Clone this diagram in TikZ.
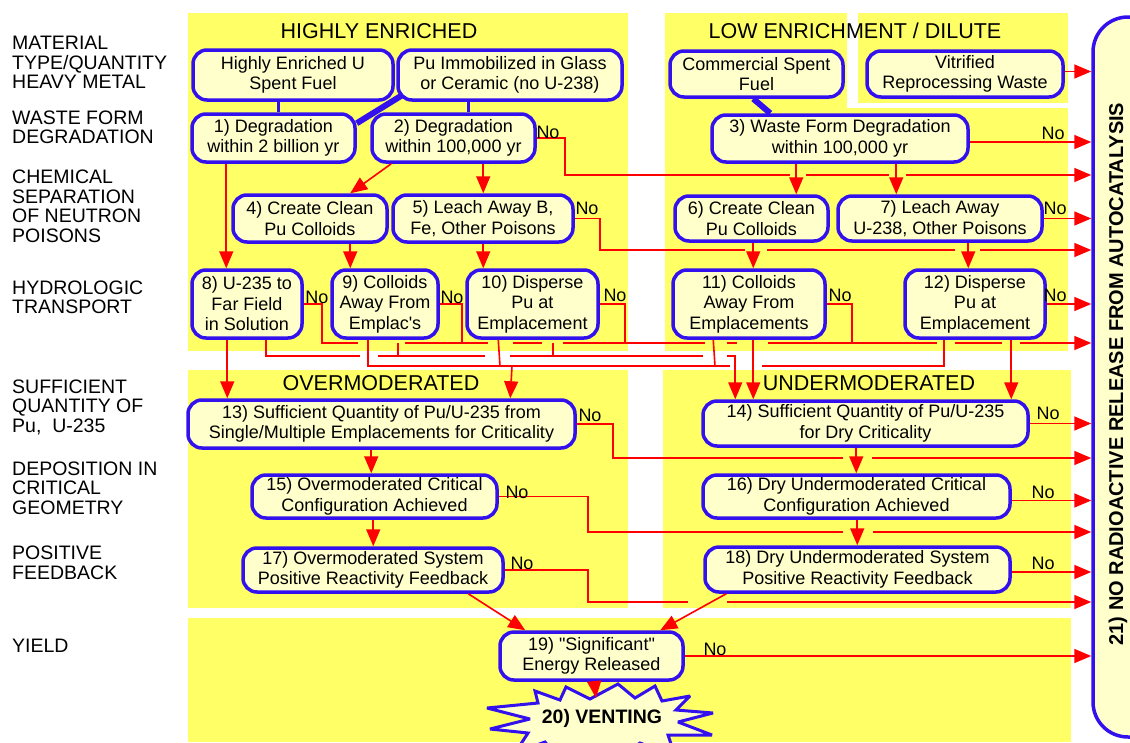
\documentclass[tikz,border=0pt]{standalone}
\usepackage{fontspec}
\setmainfont{Liberation Sans}[Ligatures=TeXOff]
\usetikzlibrary{arrows.meta}
\definecolor{panel}{RGB}{255,255,102}
\definecolor{boxfill}{RGB}{255,255,204}
\definecolor{boxline}{RGB}{51,17,238}
\definecolor{wire}{RGB}{255,0,0}
\tikzset{
  box/.style={draw=boxline, fill=boxfill, line width=3.5pt, rounded corners=14pt, inner sep=0pt, align=center, font=\fontsize{18}{20.5}\selectfont},
  side/.style={anchor=west, align=left, inner sep=0pt, font=\fontsize{19.5}{19.5}\selectfont},
  ttl/.style={inner sep=0pt, font=\fontsize{21.5}{24}\selectfont},
  nolab/.style={inner sep=0pt, font=\fontsize{18}{20}\selectfont},
  wirel/.style={draw=wire, line width=1.6pt},
  arr/.style={wirel, -{Triangle[length=17pt,width=14pt]}},
  link/.style={draw=boxline, line width=3.5pt},
  thicklink/.style={draw=boxline, line width=6pt},
  burst/.style={draw=boxline, fill=boxfill, line width=3pt, line join=miter, miter limit=3},
}
\begin{document}
\begin{tikzpicture}[x=1pt,y=-1pt]
\useasboundingbox (0,0) rectangle (1130,742);
% panels
\fill[panel] (188,13) rectangle (628,351);
\fill[panel] (665,13) rectangle (847,351);
\fill[panel] (858,13) rectangle (1068,103);
\fill[panel] (847,108) rectangle (1068,351);
\fill[panel] (188,370) rectangle (628,608);
\fill[panel] (663,370) rectangle (1071,608);
\fill[panel] (188,618) rectangle (1071,742);
% titles
\node[ttl] (tHE) at (379,31) {HIGHLY ENRICHED};
\node[ttl] (tLE) at (855,31) {LOW ENRICHMENT / DILUTE};
\node[ttl] (tOM) at (381,383) {OVERMODERATED};
\node[ttl] (tUM) at (869,383) {UNDERMODERATED};
% side labels
\node[side] (s1) at (12,62.5) {MATERIAL\\TYPE/QUANTITY\\HEAVY METAL};
\node[side] (s2) at (12,127.5) {WASTE FORM\\DEGRADATION};
\node[side] (s3) at (12,206.5) {CHEMICAL\\SEPARATION\\OF NEUTRON\\POISONS};
\node[side] (s4) at (12,297.5) {HYDROLOGIC\\TRANSPORT};
\node[side] (s5) at (12,407) {SUFFICIENT\\QUANTITY OF\\Pu,\ \ U-235};
\node[side] (s6) at (12,488) {DEPOSITION IN\\CRITICAL\\GEOMETRY};
\node[side] (s7) at (12,563) {POSITIVE\\FEEDBACK};
\node[side] (s8) at (12,646) {YIELD};
% node 21
\node[box, minimum width=80pt, minimum height=720pt, rounded corners=35pt] (n21) at (1133,377) {};
\node[rotate=90, inner sep=0pt, font=\bfseries\fontsize{20}{22}\selectfont] (t21) at (1118,374) {21) NO RADIOACTIVE RELEASE FROM AUTOCATALYSIS};
% boxes
\node[box, minimum width=200pt, minimum height=50pt] (heu) at (293,75) {Highly Enriched U\\Spent Fuel};
\node[box, minimum width=224pt, minimum height=50pt] (pu) at (510,75) {Pu Immobilized in Glass\\or Ceramic (no U-238)};
\node[box, minimum width=173pt, minimum height=46pt] (csf) at (756.5,74) {Commercial Spent\\Fuel};
\node[box, minimum width=196pt, minimum height=46pt] (vit) at (965,74) {Vitrified\\Reprocessing Waste};
\node[box, minimum width=163pt, minimum height=48pt] (n1) at (273.5,138) {1) Degradation\\within 2 billion yr};
\node[box, minimum width=163pt, minimum height=48pt] (n2) at (453.5,138) {2) Degradation\\within 100,000 yr};
\node[box, minimum width=256pt, minimum height=47pt] (n3) at (840,138.5) {3) Waste Form Degradation\\within 100,000 yr};
\node[box, minimum width=154pt, minimum height=47pt] (n4) at (310,218.5) {4) Create Clean\\Pu Colloids};
\node[box, minimum width=180pt, minimum height=47pt] (n5) at (483,218.5) {5) Leach Away B,\\Fe, Other Poisons};
\node[box, minimum width=153pt, minimum height=45pt] (n6) at (751.5,218.5) {6) Create Clean\\Pu Colloids};
\node[box, minimum width=204pt, minimum height=45pt] (n7) at (940,218.5) {7) Leach Away\\U-238, Other Poisons};
\node[box, minimum width=110pt, minimum height=68pt] (n8) at (247,304) {8) U-235 to\\Far Field\\in Solution};
\node[box, minimum width=106pt, minimum height=68pt] (n9) at (385,304) {9) Colloids\\Away From\\Emplac's};
\node[box, minimum width=131pt, minimum height=68pt] (n10) at (532.5,304) {10) Disperse\\Pu at\\Emplacement};
\node[box, minimum width=152pt, minimum height=68pt] (n11) at (749,304) {11) Colloids\\Away From\\Emplacements};
\node[box, minimum width=140pt, minimum height=68pt] (n12) at (975,304) {12) Disperse\\Pu at\\Emplacement};
\node[box, minimum width=387pt, minimum height=48pt] (n13) at (381.5,424) {13) Sufficient Quantity of Pu/U-235 from\\Single/Multiple Emplacements for Criticality};
\node[box, minimum width=325pt, minimum height=45pt] (n14) at (865.5,423.5) {14) Sufficient Quantity of Pu/U-235\\for Dry Criticality};
\node[box, minimum width=245pt, minimum height=43pt] (n15) at (374.5,496.5) {15) Overmoderated Critical\\Configuration Achieved};
\node[box, minimum width=307pt, minimum height=43pt] (n16) at (856.5,496.5) {16) Dry Undermoderated Critical\\Configuration Achieved};
\node[box, minimum width=260pt, minimum height=44pt] (n17) at (373,570) {17) Overmoderated System\\Positive Reactivity Feedback};
\node[box, minimum width=305pt, minimum height=45pt] (n18) at (857.5,569.5) {18) Dry Undermoderated System\\Positive Reactivity Feedback};
\node[box, minimum width=183pt, minimum height=48pt] (n19) at (591.5,656) {19) "Significant"\\Energy Released};
% node 20: starburst
\draw[burst] (487,708) -- (538,703) -- (535,691) -- (560,700) -- (566,687) -- (590,699) -- (618,684) -- (635,698) -- (655,686) -- (662,701) -- (690,696) -- (676,710) -- (713,713) -- (678,722) -- (712,735) -- (668,735) -- (675,756) -- (640,743) -- (615,760) -- (595,746) -- (560,760) -- (545,742) -- (515,753) -- (528,733) -- (490,729) -- (530,719) -- cycle;
\node[inner sep=0pt, font=\bfseries\fontsize{19.5}{22}\selectfont] (n20) at (602,718) {20) VENTING};
% blue links
\draw[link] ([xshift=87pt]heu.south west) -- ([xshift=88pt]n1.north west);
\draw[thicklink] ([xshift=5pt,yshift=6pt]pu.south west) -- ([yshift=-11pt]n1.north east);
\draw[link] ([xshift=72pt]pu.south west) -- ([xshift=98pt]n2.north west);
\draw[thicklink] ([xshift=85pt]csf.south west) -- ([xshift=60pt]n3.north west);
% coordinates
\coordinate (b2) at (565,175);
\coordinate (b5) at (600,250);
\coordinate (b8) at (322,343);
\coordinate (b9) at (462,343);
\coordinate (b10) at (625,343);
\coordinate (b11) at (852,343);
\coordinate (ya) at (1093,343);
\coordinate (j10) at (500,366);
\coordinate (j11) at (715,366);
\coordinate (j13) at (512,366);
\coordinate (b13) at (613,458);
\coordinate (b15) at (588,532);
\coordinate (b17) at (588,602);
\coordinate (t20) at (596,698);
% red vertical flow
\draw[arr] ([xshift=36pt]n1.south west) -- ([xshift=36pt]n8.north west);
\draw[arr] ([xshift=21pt]n2.south west) -- ([xshift=119pt]n4.north west);
\draw[arr] ([xshift=113pt]n2.south west) -- ([xshift=92pt]n5.north west);
\draw[arr] ([xshift=86pt]n3.south west) -- ([xshift=123pt]n6.north west);
\draw[arr] ([xshift=186pt]n3.south west) -- ([xshift=60pt]n7.north west);
\draw[arr] ([xshift=119pt]n4.south west) -- ([xshift=20pt]n9.north west);
\draw[arr] ([xshift=92pt]n5.south west) -- ([xshift=18pt]n10.north west);
\draw[arr] ([xshift=80pt]n6.south west) -- ([xshift=82pt]n11.north west);
\draw[arr] ([xshift=132pt]n7.south west) -- ([xshift=65pt]n12.north west);
\draw[arr] ([xshift=37pt]n8.south west) -- ([xshift=41pt]n13.north west);
\draw[arr] ([xshift=82pt]n11.south west) -- ([xshift=52pt]n14.north west);
\draw[arr] ([xshift=108pt]n12.south west) -- ([xshift=310pt]n14.north west);
\draw[arr] ([xshift=185pt]n13.south west) -- ([xshift=121pt]n15.north west);
\draw[arr] ([xshift=155pt]n14.south west) -- ([xshift=155pt]n16.north west);
\draw[arr] ([xshift=123pt]n15.south west) -- ([xshift=132pt]n17.north west);
\draw[arr] ([xshift=156pt]n16.south west) -- ([xshift=154pt]n18.north west);
\draw[arr] ([xshift=227pt]n17.south west) -- ([xshift=27pt]n19.north west);
\draw[arr] ([xshift=23pt]n18.south west) -- ([xshift=162pt]n19.north west);
\draw[arr] ([xshift=96pt]n19.south west) -- (t20);
% bus wiring between hydrologic and sufficient quantity
\draw[wirel] (n8.east) -| (b8) -- (358,343);
\draw[wirel] (n9.east) -| (b9);
\draw[wirel] (n10.east) -| (b10);
\draw[wirel] (n11.east) -| (b11);
\draw[arr] (405,343) -- (488,343) (513,343) -- (542,343) (563,343) -- (705,343) (727,343) -- (737,343) (768,343) -- (937,343) (955,343) -- (1002,343) (1020,343) -- (ya -| n21.west);
\draw[wirel] (398,343) -- (398,356);
\draw[wirel] (553,343) -- (553,356);
\draw[arr] ([xshift=76pt]n8.south west) |- (360,356) (378,356) -- (485,356) (510,356) -- (703,356) (727,356) -| ([xshift=34pt]n14.north west);
\draw[wirel] ([xshift=38pt]n9.south west) |- (730,366) (762,366) -| ([xshift=41pt]n12.south west);
\draw[wirel] (j10) -- ([xshift=33pt]n10.south west);
\draw[wirel] (j11) -- ([xshift=42pt]n11.south west);
\draw[arr] (j13) -- ([xshift=324pt]n13.north west);
% No lines
\draw[arr] ([yshift=2.5pt]vit.east) -- ([yshift=2.5pt]vit.east -| n21.west);
\draw[arr] ([yshift=-3.5pt]n3.east) -- ([yshift=-3.5pt]n3.east -| n21.west);
\draw[arr] (n2.east) -| (b2) -- (790,175) (806,175) -- (889,175) (906,175) -- (b2 -| n21.west);
\draw[arr] (n7.east) -- (n7.east -| n21.west);
\draw[arr] (n5.east) -| (b5) -- (745,250) (767,250) -- (955,250) (980,250) -- (b5 -| n21.west);
\draw[arr] (n12.east) -- (n12.east -| n21.west);
\draw[arr] (n14.east) -- (n14.east -| n21.west);
\draw[arr] (n13.east) -| (b13) -- (843,458) (872,458) -- (b13 -| n21.west);
\draw[arr] ([yshift=-4pt]n16.east) -- ([yshift=-4pt]n16.east -| n21.west);
\draw[arr] (n15.east) -| (b15) -- (843,532) (873,532) -- (b15 -| n21.west);
\draw[arr] ([yshift=-2.5pt]n18.east) -- ([yshift=-2.5pt]n18.east -| n21.west);
\draw[arr] (n17.east) -| (b17) -- (688,602) (727,602) -- (b17 -| n21.west);
\draw[arr] (n19.east) -- (n19.east -| n21.west);
% No labels
\node[nolab] (no2) at (548,132) {No};
\node[nolab] (no3) at (1053,133) {No};
\node[nolab] (no5) at (587,208) {No};
\node[nolab] (no7) at (1055,208) {No};
\node[nolab] (no8) at (317,297) {No};
\node[nolab] (no9) at (452,297) {No};
\node[nolab] (no10) at (615,295) {No};
\node[nolab] (no11) at (840,295) {No};
\node[nolab] (no12) at (1055,295) {No};
\node[nolab] (no13) at (590,415) {No};
\node[nolab] (no14) at (1048,413) {No};
\node[nolab] (no15) at (517,492) {No};
\node[nolab] (no16) at (1043,492) {No};
\node[nolab] (no17) at (522,563) {No};
\node[nolab] (no18) at (1043,563) {No};
\node[nolab] (no19) at (715,649) {No};
\end{tikzpicture}
\end{document}
